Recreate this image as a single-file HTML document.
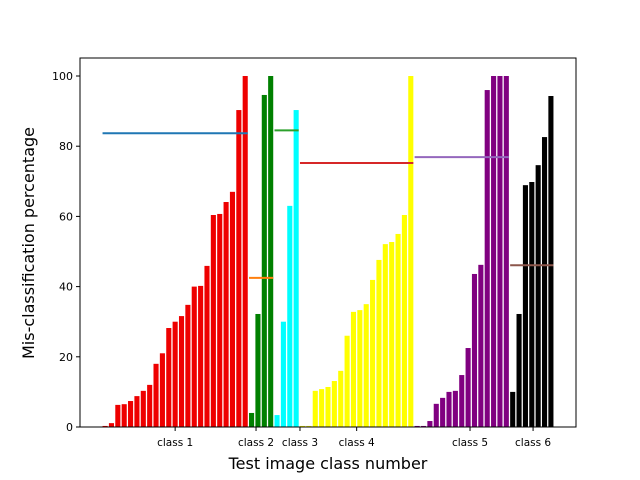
<!DOCTYPE html>
<html><head><meta charset="utf-8"><style>body{margin:0;background:#fff}svg{display:block}text{font-family:"DejaVu Sans","Liberation Sans",sans-serif}</style></head>
<body>
<svg id="chart" width="640" height="480" xmlns="http://www.w3.org/2000/svg"></svg>
<script>
const classNames = ["class 1","class 2","class 3","class 4","class 5","class 6"];
const classColors = ["#ee0000","green","cyan","yellow","purple","black"];
const meanColors = ["#1f77b4","#ff7f0e","#2ca02c","#d62728","#9467bd","#8c564b"];
const class1 = [0.3,1.1,6.3,6.5,7.4,8.8,10.3,12,18,21,28.2,30,31.6,34.8,40,40.2,45.9,60.4,60.7,64.1,67,90.3,100];
const class2 = [4,32.2,94.6,100];
const class3 = [3.4,30,63,90.3];
const class4 = [0.3,0.3,10.3,10.8,11.4,13.1,16,26,32.8,33.3,35,41.9,47.6,52.1,52.7,55,60.4,100];
const class5 = [0.3,0.3,1.7,6.6,8.3,10,10.3,14.8,22.5,43.6,46.2,96,100,100,100];
const class6 = [10,32.2,68.9,69.8,74.6,82.6,94.3];
const classMeans = [83.7,42.5,84.5,75.2,76.9,46.1];
const tickPositions = [11.0,23.7,30.6,39.5,57.3,67.2];
const yTicks = [0,20,40,60,80,100];

const svg = document.getElementById('chart');
const NS = 'http://www.w3.org/2000/svg';
const L=80,R=576,T=58,B=427;
const xmin=-3.94,xmax=73.94,ymin=0,ymax=105.13;
const xs=v=>L+(v-xmin)/(xmax-xmin)*(R-L);
const ys=v=>B-(v-ymin)/(ymax-ymin)*(B-T);
function mk(tag,attrs,parent){const e=document.createElementNS(NS,tag);for(const k in attrs)e.setAttribute(k,attrs[k]);(parent||svg).appendChild(e);return e;}

const groups=[class1,class2,class3,class4,class5,class6];
let idx=0;
groups.forEach((g,ci)=>{
  const start=idx;
  g.forEach(v=>{
    const r=mk('rect',{x:xs(idx-0.4),y:ys(v),width:xs(idx+0.4)-xs(idx-0.4),height:ys(0)-ys(v),fill:classColors[ci]});
    
    
    idx++;
  });
  g._range=[start,idx-1];
});
groups.forEach((g,ci)=>{
  const l=mk('line',{x1:xs(g._range[0]-0.4),x2:xs(g._range[1]+0.4),y1:ys(classMeans[ci]),y2:ys(classMeans[ci]),stroke:meanColors[ci],'stroke-width':2});
  
  
});
const frame=mk('rect',{x:L,y:T,width:R-L,height:B-T,fill:'none',stroke:'#000','stroke-width':1});


yTicks.forEach(v=>{
  mk('line',{x1:L-4,x2:L,y1:ys(v),y2:ys(v),stroke:'#000'});
  const t=mk('text',{x:L-7,y:ys(v)+4,'font-size':11,'text-anchor':'end'});
  t.textContent=v;
  
  
});
tickPositions.forEach((p,i)=>{
  mk('line',{x1:xs(p),x2:xs(p),y1:B,y2:B+4,stroke:'#000'});
  const t=mk('text',{x:xs(p),y:B+19,'font-size':10.5,'text-anchor':'middle'});
  t.textContent=classNames[i];
  
  
});
const xl=mk('text',{x:328,y:469,'font-size':16,'text-anchor':'middle'});
xl.textContent='Test image class number';


const yl=mk('text',{x:0,y:0,'font-size':16,'text-anchor':'middle',transform:'translate(34,243) rotate(-90)'});
yl.textContent='Mis-classification percentage';


</script>
</body></html>
